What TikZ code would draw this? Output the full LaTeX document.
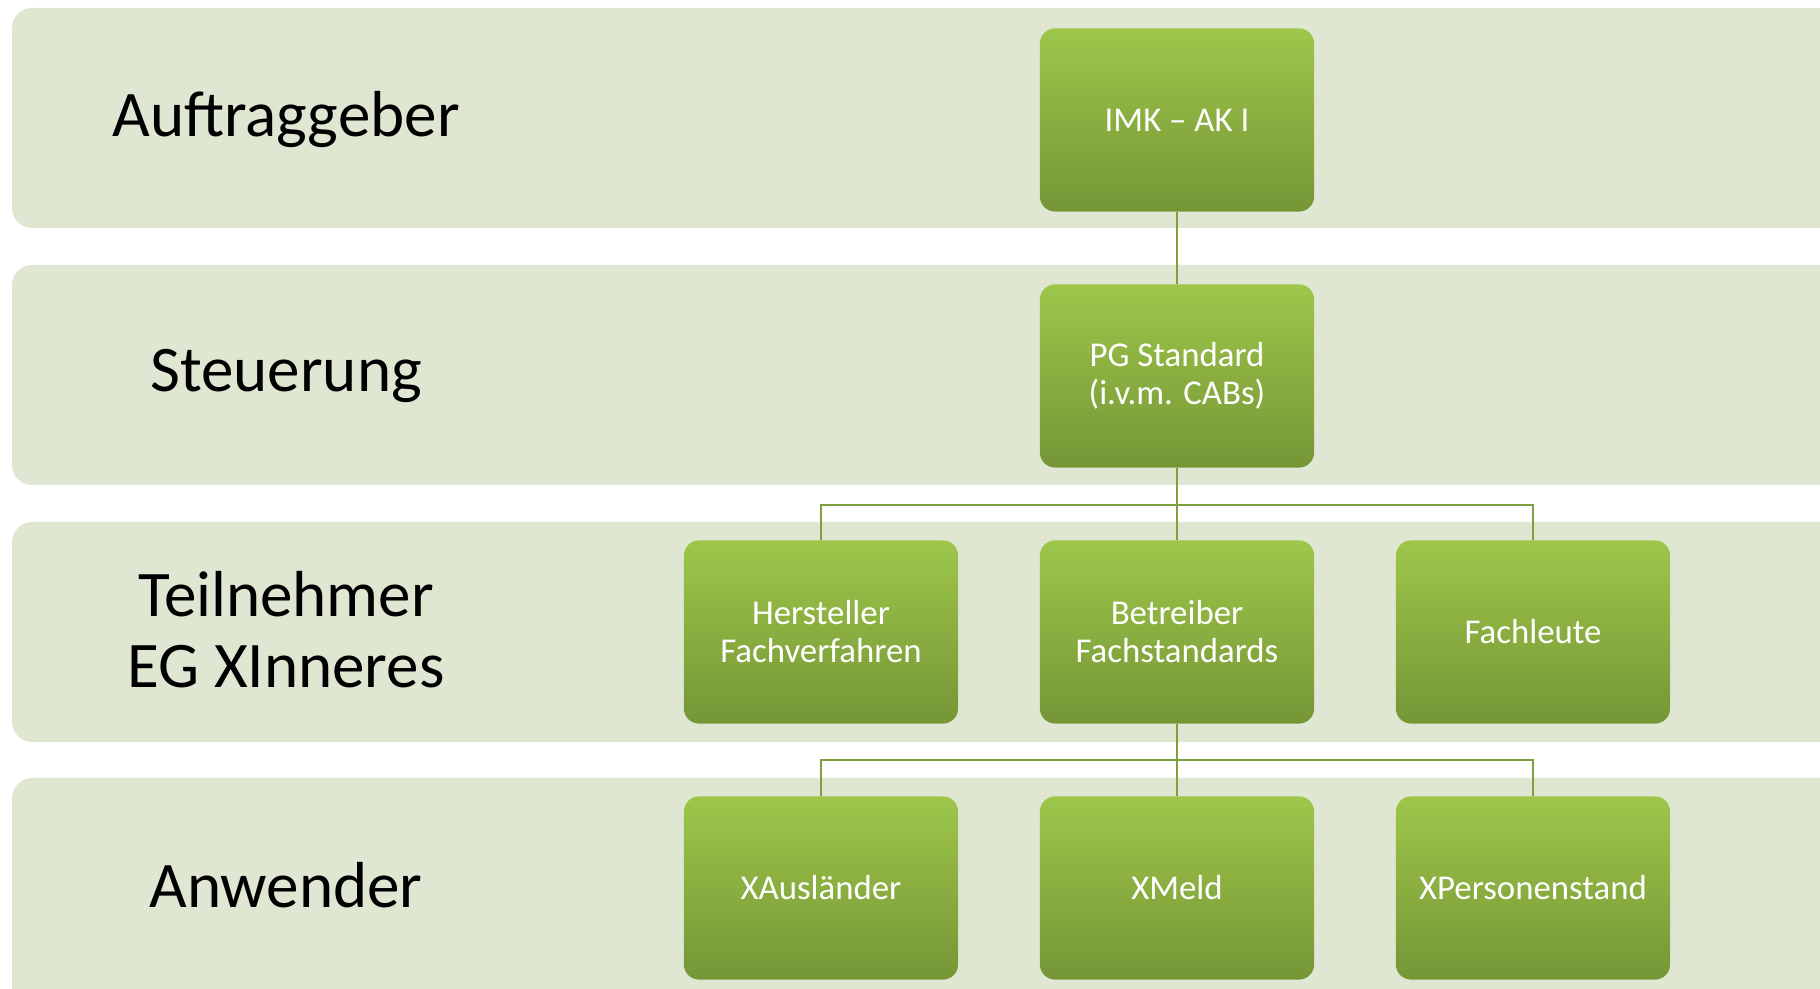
\documentclass[tikz,border=0pt]{standalone}
\usepackage{fontspec}
\setmainfont{Carlito}
\definecolor{bandfill}{RGB}{223,231,211}
\definecolor{boxtop}{RGB}{158,198,74}
\definecolor{boxbot}{RGB}{117,150,54}
\definecolor{connline}{RGB}{126,160,62}
\tikzset{
  band/.style={fill=bandfill, draw=none, rounded corners=0.2cm},
  lanelabel/.style={align=center, text=black, font=\fontsize{18.5}{20.2}\selectfont, inner sep=0pt},
  orgbox/.style={rounded corners=0.15cm, top color=boxtop, bottom color=boxbot, draw=none,
    minimum width=2.74cm, minimum height=1.83cm, align=center, text=white, inner sep=0pt,
    font=\fontsize{9.9}{10.8}\selectfont},
  conn/.style={draw=connline, line width=0.57pt}
}
\begin{document}
\begin{tikzpicture}[x=0.01cm,y=-0.01cm]
\useasboundingbox (0,0) rectangle (1820,989);
\clip (0,0) rectangle (1820,989);
\fill[white] (0,0) rectangle (1820,989);
% bands
\path[band] (12,8) rectangle (1842,228);
\path[band] (12,265) rectangle (1842,485);
\path[band] (12,522) rectangle (1842,742);
\path[band] (12,778) rectangle (1842,1010);
% lane labels
\node[lanelabel] (l1) at (286,120) {Auftraggeber};
\node[lanelabel] (l2) at (286,376) {Steuerung};
\node[lanelabel] (l3) at (286,630) {Teilnehmer\\EG XInneres};
\node[lanelabel] (l4) at (286,885) {Anwender};
% boxes
\node[orgbox] (imk) at (1177,120) {IMK – AK I};
\node[orgbox] (pg) at (1177,376) {PG Standard\\(i.v.m. CABs)};
\node[orgbox] (her) at (821,632) {Hersteller\\Fachverfahren};
\node[orgbox] (bet) at (1177,632) {Betreiber\\Fachstandards};
\node[orgbox] (fach) at (1533,632) {Fachleute};
\node[orgbox] (xaus) at (821,888) {XAusländer};
\node[orgbox] (xmeld) at (1177,888) {XMeld};
\node[orgbox] (xpers) at (1533,888) {XPersonenstand};
% connectors
\coordinate (j1) at (1177,505);
\coordinate (j2) at (1177,760);
\draw[conn] (imk.south) -- (pg.north);
\draw[conn] (pg.south) -- (bet.north);
\draw[conn] (her.north) |- (j1) -| (fach.north);
\draw[conn] (bet.south) -- (xmeld.north);
\draw[conn] (xaus.north) |- (j2) -| (xpers.north);
\end{tikzpicture}
\end{document}
